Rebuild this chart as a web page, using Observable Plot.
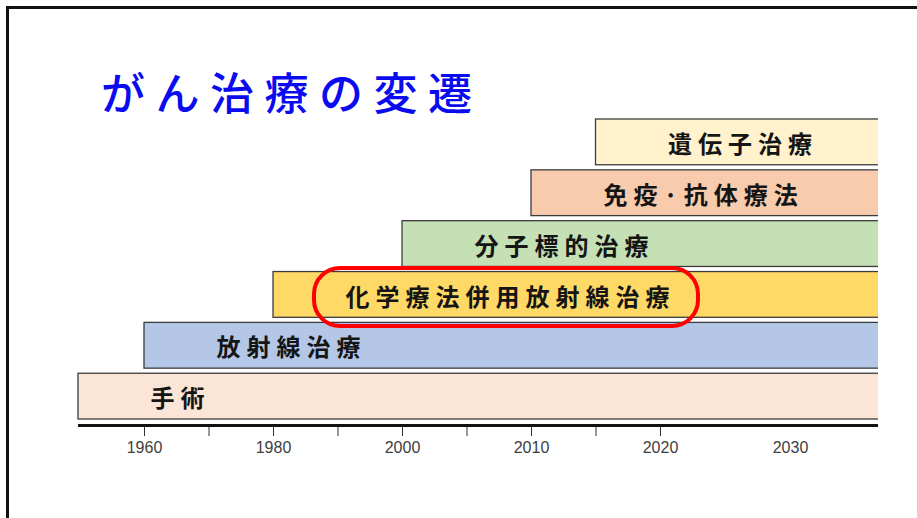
<!DOCTYPE html>
<html><head><meta charset="utf-8">
<script src="https://cdn.jsdelivr.net/npm/d3@7"></script>
<script src="https://cdn.jsdelivr.net/npm/@observablehq/plot@0.6"></script>
<style>
html,body{margin:0;padding:0;background:#fff;}
body{width:917px;height:518px;overflow:hidden;position:relative;}
#border{position:absolute;left:6px;top:6px;width:940px;height:540px;border-top:3px solid #111;border-left:3px solid #111;box-sizing:border-box;}
#title{position:absolute;left:101px;top:69px;margin:0;font-family:"Noto Sans CJK JP",sans-serif;font-weight:500;font-size:44px;line-height:44px;letter-spacing:10.5px;color:#0b0bef;white-space:nowrap;z-index:2;}
#chart{position:absolute;left:0;top:112px;z-index:1;}
</style></head><body>
<div id="border"></div>
<h1 id="title">がん治療の変遷</h1>
<div id="chart"></div>
<script>
// ---- data ----
const treatments = ["手術", "放射線治療", "化学療法併用放射線治療", "分子標的治療", "免疫·抗体療法", "遺伝子治療"];
const startYears = [1950, 1960, 1980, 2000, 2010, 2015];
const endYears   = [2040, 2040, 2040, 2040, 2040, 2040]; // ongoing, runs past the chart edge
const barColors  = ["#FBE5D6", "#B4C7E7", "#FFD966", "#C5E0B4", "#F8CBAD", "#FFF2CC"];
const highlighted = "化学療法併用放射線治療";
const tickYears  = [1960, 1970, 1980, 1990, 2000, 2005, 2010, 2015, 2020];
const labelYears = [1960, 1980, 2000, 2010, 2020, 2030];
const axisYears  = [1950, 1960, 1980, 2000, 2010, 2020, 2030, 2035];

// ---- layout ----
const W = 917, H = 406, svgTop = 112;
const axisPx = [78, 144, 273, 402, 531, 660, 790, 878];
const yRange = [119 - svgTop, 419 - svgTop];
const pad = 0.1;
const step = (yRange[1] - yRange[0]) / (treatments.length - pad);
const bw = step * (1 - pad);
const axisY = 425 - svgTop;

const data = treatments.map((name, i) => ({name, start: startYears[i], end: endYears[i], color: barColors[i]}));
const order = treatments.slice().reverse();

const plot = Plot.plot({
  width: W, height: H,
  marginLeft: 70, marginRight: W - axisPx[axisPx.length - 1], marginTop: 3, marginBottom: H - axisY,
  style: {background: "transparent", color: "#333", fontFamily: "'Liberation Sans', Arial, sans-serif", fontSize: "16px", overflow: "visible"},
  color: {type: "identity"},
  x: {type: "linear", domain: axisYears, range: axisPx, ticks: tickYears, tickFormat: () => "", tickSize: 11, tickPadding: 0, label: null},
  y: {type: "band", domain: order, range: yRange, paddingInner: pad, paddingOuter: 0, round: false, axis: null},
  marks: [
    Plot.barX(data, {y: "name", x1: "start", x2: "end", fill: "color", stroke: "#3c3c3c", strokeWidth: 1.3, clip: true}),
    Plot.ruleY([order[order.length - 1]], {y: d => d, x1: axisYears[0], x2: axisYears[axisYears.length - 1], dy: axisY - (yRange[1] - bw / 2), stroke: "#111", strokeWidth: 3}),
    Plot.text(labelYears, {x: d => d, text: d => String(d), frameAnchor: "bottom", dy: 27, fill: "#404040", fontSize: 16, fontFamily: "'Liberation Sans', Arial, sans-serif"}),
    Plot.text(data, {y: "name", x: "start", text: "name", textAnchor: "start", dx: 72, dy: 3, fontSize: 24, fontWeight: "bold", fontFamily: "'Noto Sans CJK JP', sans-serif", fill: "#151515"}),
    Plot.barX(data.filter(d => d.name === highlighted), {y: "name", x1: "start", x2: "start", insetLeft: 41, insetRight: -425, insetTop: -3.5, insetBottom: -8.7, rx: 26, ry: 26, fill: "none", stroke: "#ff0000", strokeWidth: 4})
  ]
});
document.getElementById("chart").appendChild(plot);
d3.select(plot).selectAll("text").filter(function() { return treatments.includes(this.textContent); }).style("letter-spacing", "6px");
</script>
</body></html>
